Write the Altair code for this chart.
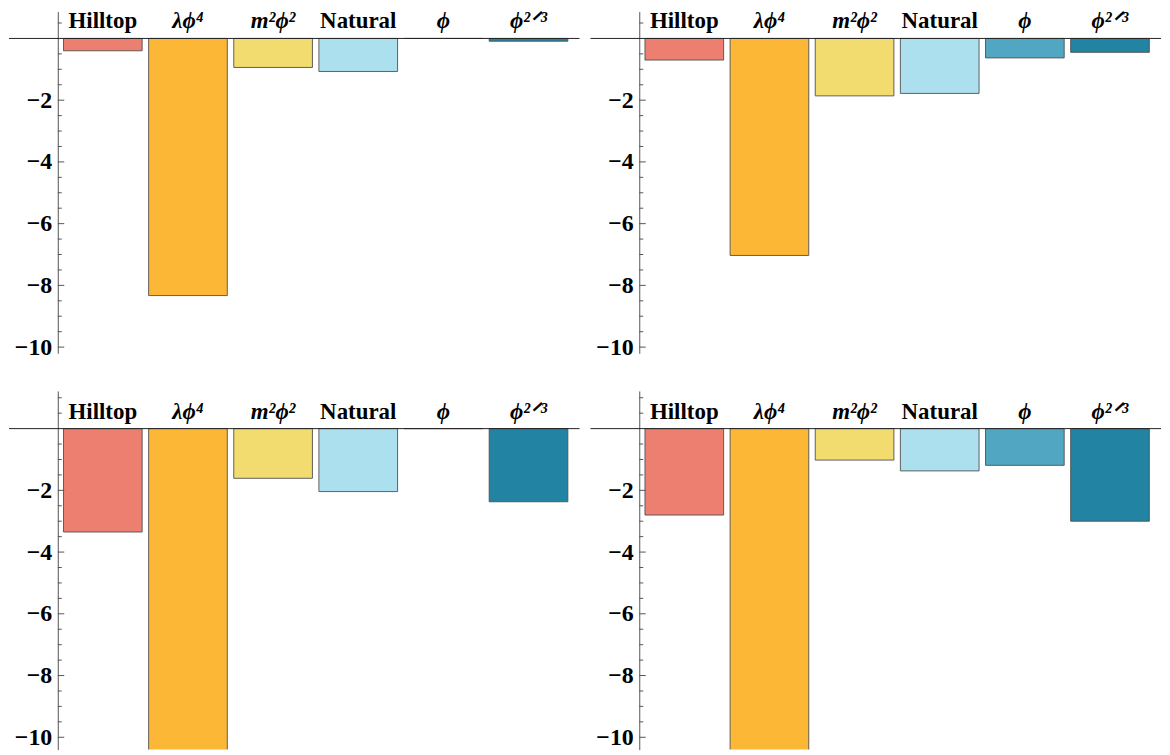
import altair as alt
import pandas as pd

categories = ["Hilltop", "λϕ⁴", "m²ϕ²", "Natural", "ϕ", "ϕ²ᐟ³"]
italic_flags = [False, True, True, False, True, True]
colors = ["#EC7F6F", "#FDB737", "#F2DC70", "#ADE0EE", "#51A6C2", "#2283A3"]

top_left = [-0.40, -8.33, -0.94, -1.07, 0.0, -0.09]
top_right = [-0.70, -7.03, -1.86, -1.78, -0.63, -0.45]
bottom_left = [-3.35, -11.5, -1.61, -2.04, 0.0, -2.37]
bottom_right = [-2.80, -11.5, -1.02, -1.37, -1.19, -3.00]

major_ticks = [-10, -8, -6, -4, -2]
minor_ticks = [-9.5, -9, -8.5, -7.5, -7, -6.5, -5.5, -5, -4.5, -3.5, -3, -2.5,
               -1.5, -1, -0.5, 0.5, 1.0]

W = 518
PX = 31
FONT = "Liberation Serif"


def yenc(field, scale):
    ax = alt.Axis(values=major_ticks, ticks=False, tickSize=0, labelPadding=6,
                  domainColor="#555555", domainWidth=1, labelFont=FONT,
                  labelFontSize=24, labelFontWeight="bold", labelColor="black",
                  grid=False, labelFlush=False, labelOverlap=False)
    return alt.Y(field, scale=scale, axis=ax, title=None)


def panel(vals, ymin, ymax):
    H = (ymax - ymin) * PX
    df = pd.DataFrame({"cat": categories, "val": vals, "color": colors,
                       "italic": italic_flags})
    yscale = alt.Scale(domain=[ymin, ymax], nice=False, zero=False)
    xscale = alt.Scale(domain=categories, paddingInner=0.076, paddingOuter=0.067)
    xenc = alt.X("cat:N", scale=xscale, axis=None, sort=categories, title=None)
    base = alt.Chart(df)
    bars = base.mark_bar(stroke="#505050", strokeWidth=1, strokeOpacity=0.9,
                         clip=True).encode(
        x=xenc,
        y=yenc("val:Q", yscale),
        y2=alt.datum(0),
        color=alt.Color("color:N", scale=None),
    )
    zero = alt.Chart(pd.DataFrame({"z": [0]})).mark_rule(
        color="#222222", strokeWidth=1).encode(
        y=yenc("z:Q", yscale),
        x=alt.value(-49), x2=alt.value(W + 6),
    )
    majdf = pd.DataFrame({"t": [t for t in major_ticks if ymin <= t <= ymax]})
    mindf = pd.DataFrame({"t": [t for t in minor_ticks if ymin <= t <= ymax]})
    maj = alt.Chart(majdf).mark_rule(color="#555555", strokeWidth=1).encode(
        y=yenc("t:Q", yscale), x=alt.value(0), x2=alt.value(6.5))
    minr = alt.Chart(mindf).mark_rule(color="#555555", strokeWidth=1).encode(
        y=yenc("t:Q", yscale), x=alt.value(0), x2=alt.value(4))
    up = base.transform_filter("!datum.italic").mark_text(
        font=FONT, fontWeight="bold", fontSize=23, baseline="alphabetic",
        dy=-10, color="black").encode(x=xenc, y=alt.datum(0), text="cat:N")
    it = base.transform_filter("datum.italic").mark_text(
        font=FONT, fontWeight="bold", fontStyle="italic", fontSize=23,
        baseline="alphabetic", dy=-10, color="black").encode(
        x=xenc, y=alt.datum(0), text="cat:N")
    return alt.layer(bars, zero, maj, minr, up, it).properties(width=W, height=H)


chart = alt.concat(
    panel(top_left, -10.2, 0.87), panel(top_right, -10.2, 0.87),
    panel(bottom_left, -10.4, 1.22), panel(bottom_right, -10.4, 1.22),
    columns=2, spacing={"row": 37, "column": 66}, bounds="flush",
).properties(padding=0).configure_view(stroke=None)

chart.save("out.html", embed_options={"renderer": "svg", "actions": False})
